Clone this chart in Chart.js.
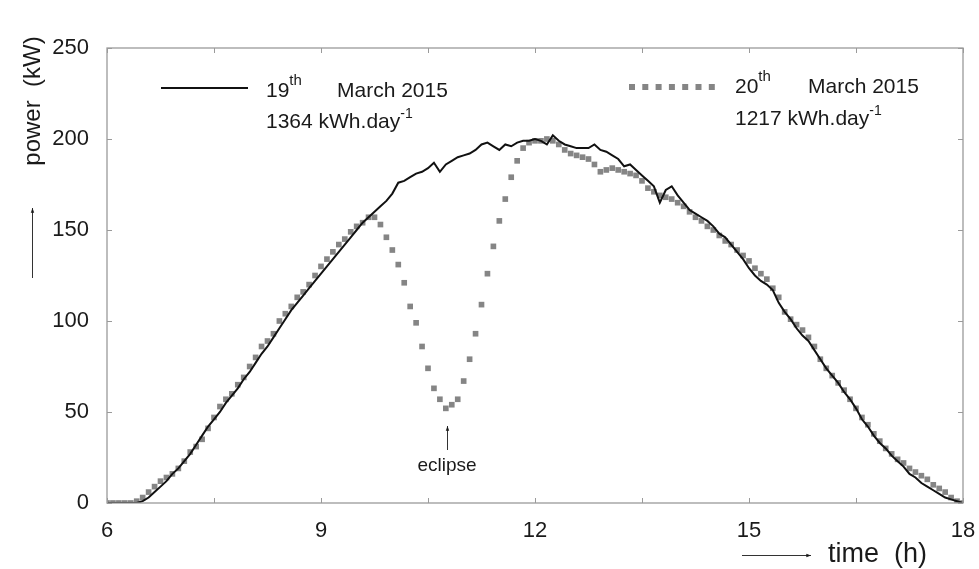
<!DOCTYPE html>
<html>
<head>
<meta charset="utf-8">
<script src="https://cdn.jsdelivr.net/npm/chart.js@4.4.0/dist/chart.umd.min.js"></script>
<style>
html, body { margin: 0; padding: 0; background: #fff; }
#wrap { width: 979px; height: 569px; position: relative; }
</style>
</head>
<body>
<div id="wrap"><canvas id="chart"></canvas></div>
<script>
// Time grid: 5-minute samples from 06:00 to 18:00
const startHour = 6;
const stepHours = 5 / 60;

// 19th March 2015 (black line), kW
const power19 = [
    0, 0, 0, 0, 0, 0, 1, 3, 6, 9, 12, 16,
    19, 23, 27, 32, 37, 42, 46, 50, 55, 59, 63, 68,
    72, 77, 82, 86, 91, 96, 101, 106, 110, 114, 118, 122,
    126, 130, 134, 138, 142, 146, 150, 154, 157, 160, 163, 166,
    170, 176, 177, 179, 181, 182, 184, 187, 182, 186, 188, 190,
    191, 192, 194, 197, 198, 196, 194, 197, 196, 198, 199, 199,
    200, 199, 197, 202, 199, 197, 196, 195, 195, 195, 197, 194,
    193, 191, 189, 185, 186, 183, 180, 177, 174, 165, 172, 174,
    169, 165, 161, 159, 157, 155, 152, 148, 146, 142, 138, 134,
    129, 125, 122, 120, 117, 110, 105, 101, 96, 92, 89, 84,
    79, 74, 70, 66, 61, 57, 52, 46, 42, 37, 33, 30,
    26, 23, 20, 16, 14, 11, 9, 7, 5, 3, 2, 1,
    0
];

// 20th March 2015 (grey squares, solar eclipse), kW
const power20 = [
    0, 0, 0, 0, 0, 1, 3, 6, 9, 12, 14, 16,
    19, 23, 28, 31, 35, 41, 47, 53, 57, 60, 65, 69,
    75, 80, 86, 89, 93, 100, 104, 108, 113, 116, 120, 125,
    130, 134, 138, 142, 145, 149, 152, 154, 157, 157, 153, 146,
    139, 131, 121, 108, 99, 86, 74, 63, 57, 52, 54, 57,
    67, 79, 93, 109, 126, 141, 155, 167, 179, 188, 195, 198,
    199, 199, 200, 199, 197, 194, 192, 191, 190, 189, 186, 182,
    183, 184, 183, 182, 181, 180, 177, 173, 171, 169, 168, 167,
    165, 163, 160, 157, 155, 152, 150, 147, 144, 142, 139, 136,
    133, 129, 126, 123, 118, 113, 105, 101, 98, 95, 91, 86,
    79, 74, 70, 66, 62, 57, 52, 47, 43, 38, 34, 30,
    27, 24, 22, 19, 17, 15, 13, 10, 8, 6, 3, 1,
    0
];

const xTicks = [6, 7.5, 9, 10.5, 12, 13.5, 15, 16.5, 18];
const xLabels = [6, 9, 12, 15, 18];
const yTicks = [0, 50, 100, 150, 200, 250];

const FONT = '"Liberation Sans", Arial, sans-serif';
const TEXT = '#1a1a1a';
const FRAME = '#9a9a9a';

function toPoints(values) {
    return values.map((v, i) => ({ x: startHour + i * stepHours, y: v }));
}

// Write a run of text pieces, some raised and smaller (superscripts)
function drawParts(ctx, x, y, parts) {
    parts.forEach(p => {
        ctx.font = p.size + 'px ' + FONT;
        ctx.fillText(p.text, x, y - (p.rise || 0));
        x += ctx.measureText(p.text).width + (p.gap || 0);
    });
}

function arrow(ctx, x1, y1, x2, y2) {
    const a = Math.atan2(y2 - y1, x2 - x1);
    ctx.beginPath();
    ctx.moveTo(x1, y1);
    ctx.lineTo(x2, y2);
    ctx.stroke();
    ctx.beginPath();
    ctx.moveTo(x2, y2);
    ctx.lineTo(x2 - 5 * Math.cos(a - 0.35), y2 - 5 * Math.sin(a - 0.35));
    ctx.lineTo(x2 - 5 * Math.cos(a + 0.35), y2 - 5 * Math.sin(a + 0.35));
    ctx.closePath();
    ctx.fill();
}

const framePlugin = {
    id: 'frame',
    afterDraw(chart) {
        const ctx = chart.ctx;
        const a = chart.chartArea;
        const xs = chart.scales.x;
        const ys = chart.scales.y;
        ctx.save();

        // box and inward ticks on all four sides
        ctx.strokeStyle = FRAME;
        ctx.lineWidth = 1.3;
        ctx.strokeRect(a.left, a.top, a.right - a.left, a.bottom - a.top);
        ctx.lineWidth = 1;
        ctx.beginPath();
        xTicks.forEach(v => {
            const px = Math.round(xs.getPixelForValue(v)) + 0.5;
            ctx.moveTo(px, a.bottom); ctx.lineTo(px, a.bottom - 5);
            ctx.moveTo(px, a.top); ctx.lineTo(px, a.top + 5);
        });
        yTicks.forEach(v => {
            const py = Math.round(ys.getPixelForValue(v)) + 0.5;
            ctx.moveTo(a.left, py); ctx.lineTo(a.left + 5, py);
            ctx.moveTo(a.right, py); ctx.lineTo(a.right - 5, py);
        });
        ctx.stroke();

        ctx.fillStyle = TEXT;
        ctx.strokeStyle = '#333';
        ctx.textBaseline = 'alphabetic';
        ctx.textAlign = 'left';

        // y axis title with arrow
        ctx.save();
        ctx.translate(40, 101);
        ctx.rotate(-Math.PI / 2);
        ctx.textAlign = 'center';
        ctx.font = '24px ' + FONT;
        ctx.fillText('power  (kW)', 0, 0);
        ctx.restore();
        ctx.lineWidth = 1;
        arrow(ctx, 32.5, 278, 32.5, 208);

        // x axis title with arrow
        arrow(ctx, 742, 555.5, 811, 555.5);
        ctx.font = '27px ' + FONT;
        ctx.fillText('time  (h)', 828, 562);

        // legend, 19th
        ctx.strokeStyle = '#111';
        ctx.lineWidth = 2.2;
        ctx.beginPath();
        ctx.moveTo(161, 88); ctx.lineTo(248, 88);
        ctx.stroke();
        drawParts(ctx, 266, 97, [{ text: '19', size: 21 }, { text: 'th', size: 15, rise: 12 }]);
        ctx.font = '21px ' + FONT;
        ctx.fillText('March 2015', 337, 97);
        drawParts(ctx, 266, 128, [{ text: '1364 kWh.day', size: 21 }, { text: '-1', size: 14, rise: 10 }]);

        // legend, 20th
        ctx.fillStyle = '#858585';
        for (let i = 0; i < 7; i++) {
            ctx.fillRect(629 + i * 13.3, 84, 6, 6);
        }
        ctx.fillStyle = TEXT;
        drawParts(ctx, 735, 93, [{ text: '20', size: 21 }, { text: 'th', size: 15, rise: 12 }]);
        ctx.font = '21px ' + FONT;
        ctx.fillText('March 2015', 808, 93);
        drawParts(ctx, 735, 125, [{ text: '1217 kWh.day', size: 21 }, { text: '-1', size: 14, rise: 10 }]);

        // eclipse note
        ctx.strokeStyle = '#333';
        ctx.lineWidth = 1;
        arrow(ctx, 447.5, 450, 447.5, 426);
        ctx.textAlign = 'center';
        ctx.font = '19px ' + FONT;
        ctx.fillText('eclipse', 447, 471);

        ctx.restore();
    }
};

new Chart(document.getElementById('chart'), {
    type: 'scatter',
    data: {
        datasets: [
            {
                label: '19th March 2015',
                data: toPoints(power19),
                showLine: true,
                borderColor: '#111',
                borderWidth: 2,
                pointRadius: 0,
                tension: 0
            },
            {
                label: '20th March 2015',
                data: toPoints(power20),
                showLine: false,
                pointStyle: 'rect',
                pointRadius: 4,
                pointBorderWidth: 0,
                pointBackgroundColor: '#858585',
                pointBorderColor: '#858585'
            }
        ]
    },
    options: {
        responsive: true,
        maintainAspectRatio: false,
        animation: false,
        events: [],
        layout: { padding: { left: 0, right: 16, top: 48, bottom: 0 } },
        plugins: {
            legend: { display: false },
            tooltip: { enabled: false }
        },
        scales: {
            x: {
                type: 'linear',
                min: 6,
                max: 18,
                grid: { display: false },
                border: { display: false },
                afterBuildTicks: s => { s.ticks = xTicks.map(v => ({ value: v })); },
                afterFit: s => { s.height = 66; s.paddingRight = 0; s.paddingLeft = 0; },
                ticks: {
                    autoSkip: false,
                    maxRotation: 0,
                    padding: 7,
                    color: TEXT,
                    font: { family: FONT, size: 22 },
                    callback: v => (xLabels.includes(v) ? String(v) : '')
                }
            },
            y: {
                min: 0,
                max: 250,
                grid: { display: false },
                border: { display: false },
                afterBuildTicks: s => { s.ticks = yTicks.map(v => ({ value: v })); },
                afterFit: s => { s.width = 107; s.paddingTop = 0; s.paddingBottom = 0; },
                ticks: {
                    padding: 10,
                    color: TEXT,
                    font: { family: FONT, size: 22 }
                }
            }
        }
    },
    plugins: [framePlugin]
});
</script>
</body>
</html>
